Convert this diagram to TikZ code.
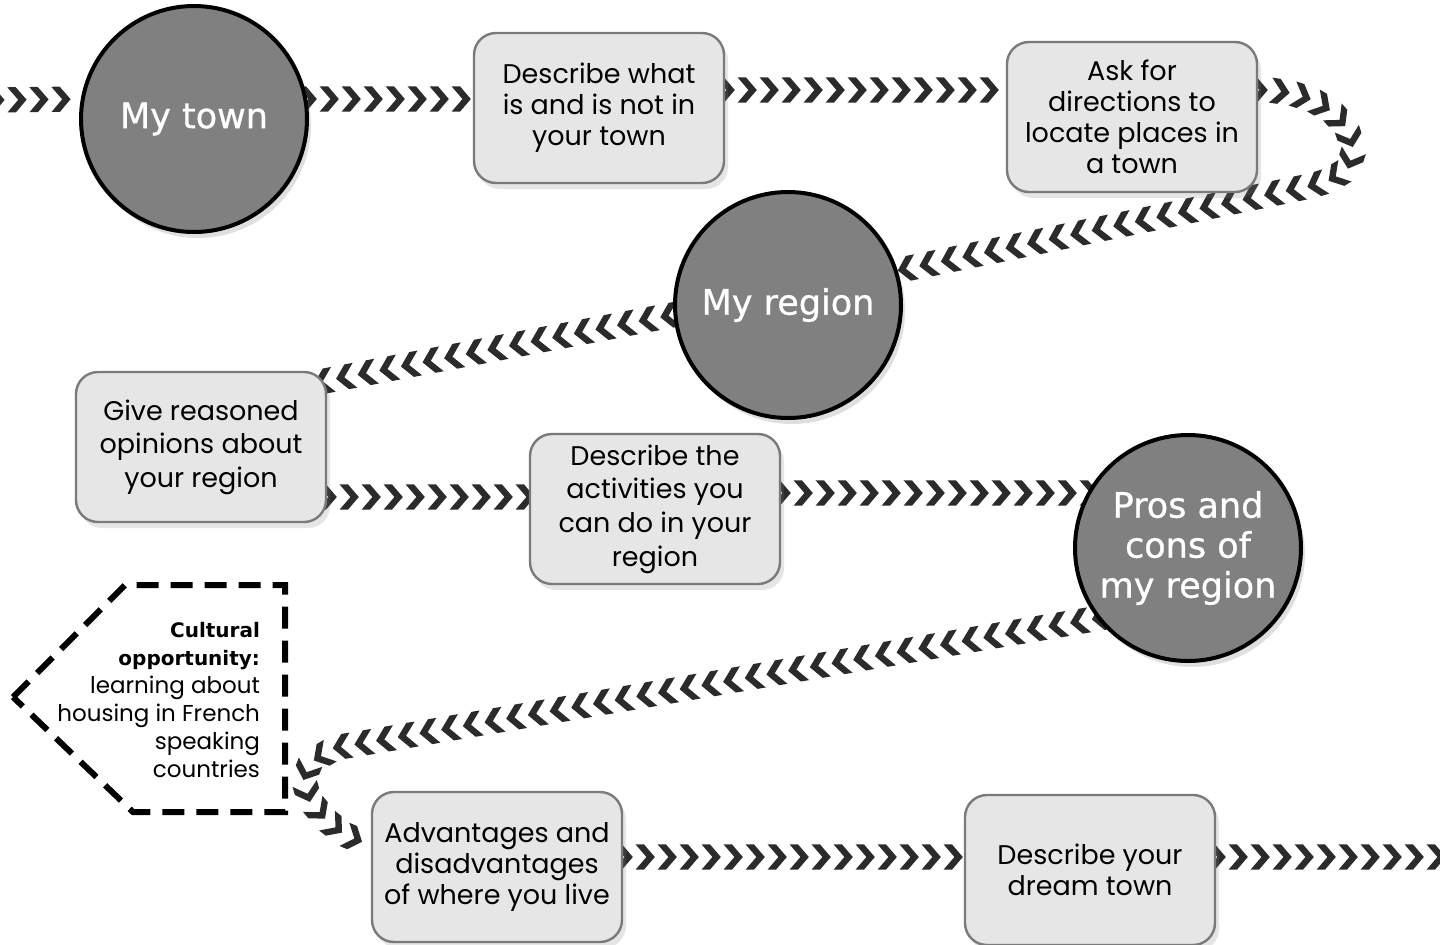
\documentclass[tikz,border=0pt]{standalone}
\usepackage{fontspec}
\setmainfont{Poppins}
\newfontfamily\topicfont{DejaVu Sans}[FakeBold=0.9]
\newfontfamily\cultfont{DejaVu Sans}
\usetikzlibrary{calc,shadows,backgrounds,decorations.markings}

\definecolor{chevgray}{HTML}{2B2B2B}
\definecolor{boxgray}{HTML}{E6E6E6}
\definecolor{edgegray}{HTML}{7A7A7A}
\definecolor{topicgray}{HTML}{808080}

\newcommand{\culturebold}[1]{{\cultfont\bfseries\fontsize{10}{14}\selectfont #1}}

\tikzset{
  topic/.style={circle,draw=black,line width=2pt,fill=topicgray,minimum size=113pt,inner sep=0pt,
    text=white,align=center,font=\topicfont\fontsize{17.5}{20}\selectfont,
    drop shadow={opacity=0.25,shadow xshift=2pt,shadow yshift=-3pt}},
  task/.style={rectangle,rounded corners=11pt,draw=edgegray,line width=1.2pt,fill=boxgray,
    minimum width=125pt,minimum height=75pt,inner sep=2pt,align=center,
    font=\fontsize{13.5}{15.5}\selectfont,
    drop shadow={opacity=0.2,shadow xshift=2pt,shadow yshift=-3pt}},
  loosetask/.style={task,font=\fontsize{13.5}{16.8}\selectfont},
  culturebox/.style={draw=black,fill=white,line width=3pt,dash pattern=on 11pt off 6pt},
  chevrons/.style={postaction={decorate},decoration={markings,
    mark=between positions 0 and 1 step 11pt with
      {\fill[chevgray] (-4.8pt,-6.3pt) -- (-0.6pt,-6.3pt) -- (4.8pt,0pt) -- (-0.6pt,6.3pt) -- (-4.8pt,6.3pt) -- (0.6pt,0pt) -- cycle;}}}
}

\begin{document}
\begin{tikzpicture}[x=0.5pt,y=-0.5pt]
  \useasboundingbox (0,0) rectangle (1440,944);

  \node[topic]     (town)       at (194,119)  {My town};
  \node[task]      (describe)   at (599,108)  {Describe what\\is and is not in\\your town};
  \node[task]      (ask)        at (1132,117) {Ask for\\directions to\\locate places in\\a town};
  \node[topic]     (region)     at (788,305)  {My region};
  \node[loosetask] (reasoned)   at (201,447)  {Give reasoned\\opinions about\\your region};
  \node[loosetask] (activities) at (655,509)  {Describe the\\activities you\\can do in your\\region};
  \node[topic]     (pros)       at (1188,548) {Pros and\\cons of\\my region};
  \node[task]      (advantages) at (497,867)  {Advantages and\\disadvantages\\of where you live};
  \node[task]      (dream)      at (1090,870) {Describe your\\dream town};

  \draw[culturebox] (13,697) -- (125,585) -- (285,585) -- (285,812) -- (133,812) -- cycle;
  \node[anchor=east,align=right,font=\fontsize{11.5}{14}\selectfont] (culture) at (267,700)
    {\culturebold{Cultural}\\\culturebold{opportunity:}\\learning about\\housing in French\\speaking\\countries};

  \coordinate (start)  at (-5,100);
  \coordinate (finish) at (1445,857);
  \coordinate (bendA)  at (1352,152);
  \coordinate (bendB)  at (1310,186);
  \coordinate (bendC)  at (340,747);
  \coordinate (bendD)  at (308,795);

  \begin{pgfonlayer}{background}
    \fill[white] (0,0) rectangle (1440,944);
    \path[chevrons] (start) -- (town.170);
    \path[chevrons] (town.10) -- (town.10 -| describe.west);
    \path[chevrons] ($(describe.east)+(0,-18)$) -- ($(ask.west)+(0,-27)$);
    \path[chevrons] ($(ask.east)+(0,-27)$) .. controls +(55,0) and +(0,-35) .. (bendA)
      .. controls +(0,20) and +(20,-5) .. (bendB) -- ($(region.center)+(0,-12)$)
      -- ($(reasoned.north east)+(-12,12)$);
    \path[chevrons] ($(reasoned.east)+(0,50)$) coordinate (r5) -- (r5 -| activities.west);
    \path[chevrons] ($(activities.east)+(0,-16)$) -- ($(pros.center)+(0,-55)$);
    \path[chevrons] ($(pros.center)+(0,55)$) -- (bendC) .. controls +(-30,12) and +(-8,-25) .. (bendD)
      .. controls +(10,20) and +(-25,0) .. ($(advantages.west)+(0,-25)$);
    \path[chevrons] ($(advantages.east)+(0,-10)$) -- ($(dream.west)+(0,-13)$);
    \path[chevrons] ($(dream.east)+(0,-13)$) -- (finish);
  \end{pgfonlayer}
\end{tikzpicture}
\end{document}
